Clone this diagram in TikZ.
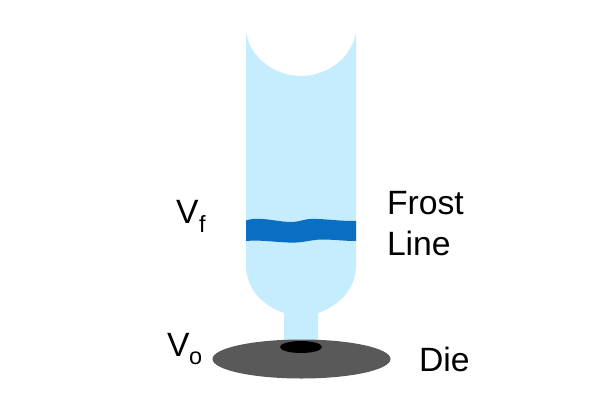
\documentclass[tikz,border=0pt]{standalone}
\usepackage{fontspec}
\setmainfont{Liberation Sans}
\definecolor{film}{HTML}{C6EDFE}
\definecolor{frost}{HTML}{0A6FC2}
\definecolor{diegrey}{HTML}{595959}
\tikzset{
  lbl/.style={anchor=base west,inner sep=0pt,outer sep=0pt,text=black,font=\fontsize{33.7}{33.7}\selectfont},
  sub/.style={anchor=base west,inner sep=0pt,outer sep=0pt,text=black,font=\fontsize{23.5}{23.5}\selectfont}
}
\begin{document}
\begin{tikzpicture}[x=1pt,y=-1pt]
\useasboundingbox (0,0) rectangle (600,400);
\fill[white] (0,0) rectangle (600,400);
% bubble
\fill[film] (246,32) .. controls (250,58) and (275,76) .. (301,76)
  .. controls (327,76) and (352,58) .. (356,32)
  -- (356,265) .. controls (356,290) and (338,306) .. (318,313)
  -- (318,345) -- (284,345) -- (284,313)
  .. controls (264,306) and (246,290) .. (246,265) -- cycle;
% frost band
\fill[frost] (246,220.5) .. controls (250,219) and (254,218.8) .. (258,218.8)
  .. controls (270,219) and (282,222.3) .. (293,222)
  .. controls (300,221.5) and (305,219) .. (312,218.8)
  .. controls (325,218.8) and (342,221.5) .. (356,220.8)
  -- (356,241) .. controls (344,241) and (332,239.3) .. (320,239.5)
  .. controls (311,240) and (303,242.6) .. (293,242.6)
  .. controls (278,242.6) and (260,239.5) .. (246,241) -- cycle;
% die
\fill[diegrey] (301.5,359) ellipse [x radius=89, y radius=19.5];
\fill[black] (301,347) ellipse [x radius=21, y radius=6];
% labels
\node[lbl] (vf) at (176,223) {V};
\node[sub] (vfs) at (199,232) {f};
\node[lbl] (vo) at (167,356) {V};
\node[sub] (vos) at (189,364) {o};
\node[lbl] (fr) at (387,214) {Frost};
\node[lbl] (li) at (387,255) {Line};
\node[lbl] (di) at (419,371) {Die};
\end{tikzpicture}
\end{document}
